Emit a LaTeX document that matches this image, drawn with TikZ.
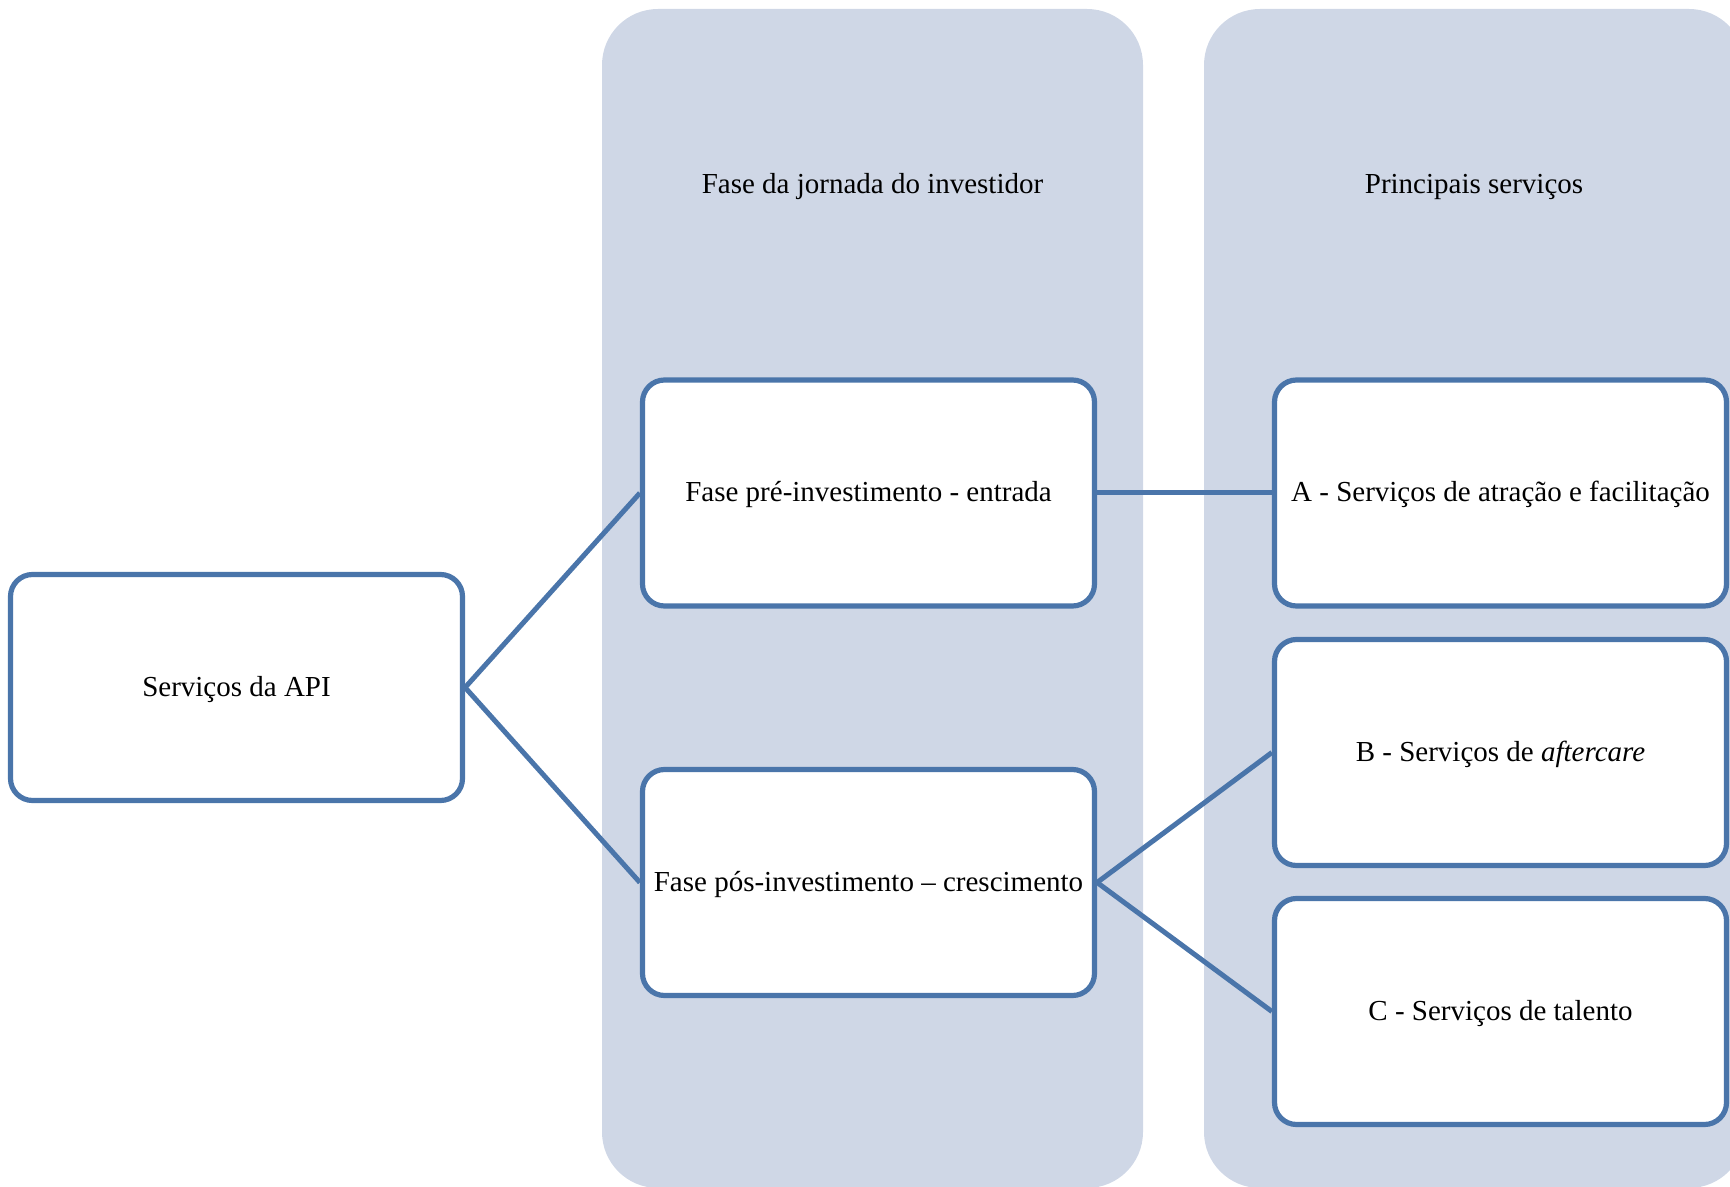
\documentclass[tikz,border=0pt]{standalone}
\usepackage{fontspec}
\setmainfont{Liberation Serif}
\definecolor{edgeblue}{HTML}{4A75AA}
\definecolor{laneblue}{HTML}{CFD7E6}
\begin{document}
\begin{tikzpicture}[x=0.5pt,y=-0.5pt,
  lane/.style={fill=laneblue,draw=none,rounded corners=28pt},
  lanetitle/.style={font=\fontsize{14.5}{17}\selectfont,text=black,
    text height=12.5pt,text depth=3.5pt},
  stagebox/.style={draw=edgeblue,line width=2.6pt,fill=white,rounded corners=11pt,
    minimum width=226pt,minimum height=113pt,inner sep=0pt,align=center,
    text height=12.5pt,text depth=3.5pt,
    font=\fontsize{14.5}{17}\selectfont},
  link/.style={draw=edgeblue,line width=2.5pt}]
\useasboundingbox (0,0) rectangle (1730,1187);
\clip (0,0) rectangle (1730,1187);
% column backgrounds
\path[lane] (602,9) rectangle (1143,1188);
\path[lane] (1204,9) rectangle (1745,1188);
\node[lanetitle] (t1) at (872.5,185) {Fase da jornada do investidor};
\node[lanetitle] (t2) at (1474,185) {Principais serviços};
% boxes
\node[stagebox] (api) at (236.5,687.5) {Serviços da API};
\node[stagebox] (pre) at (868.5,493) {Fase pré-investimento - entrada};
\node[stagebox] (pos) at (868.5,882.5) {Fase pós-investimento – crescimento};
\node[stagebox] (a) at (1500.5,493) {A - Serviços de atração e facilitação};
\node[stagebox] (b) at (1500.5,752.5) {B - Serviços de \textit{aftercare}};
\node[stagebox] (c) at (1500.5,1011.5) {C - Serviços de talento};
% connectors
\draw[link] (api.east) -- (pre.west);
\draw[link] (api.east) -- (pos.west);
\draw[link] (pre.east) -- (a.west);
\draw[link] (pos.east) -- (b.west);
\draw[link] (pos.east) -- (c.west);
\end{tikzpicture}
\end{document}
